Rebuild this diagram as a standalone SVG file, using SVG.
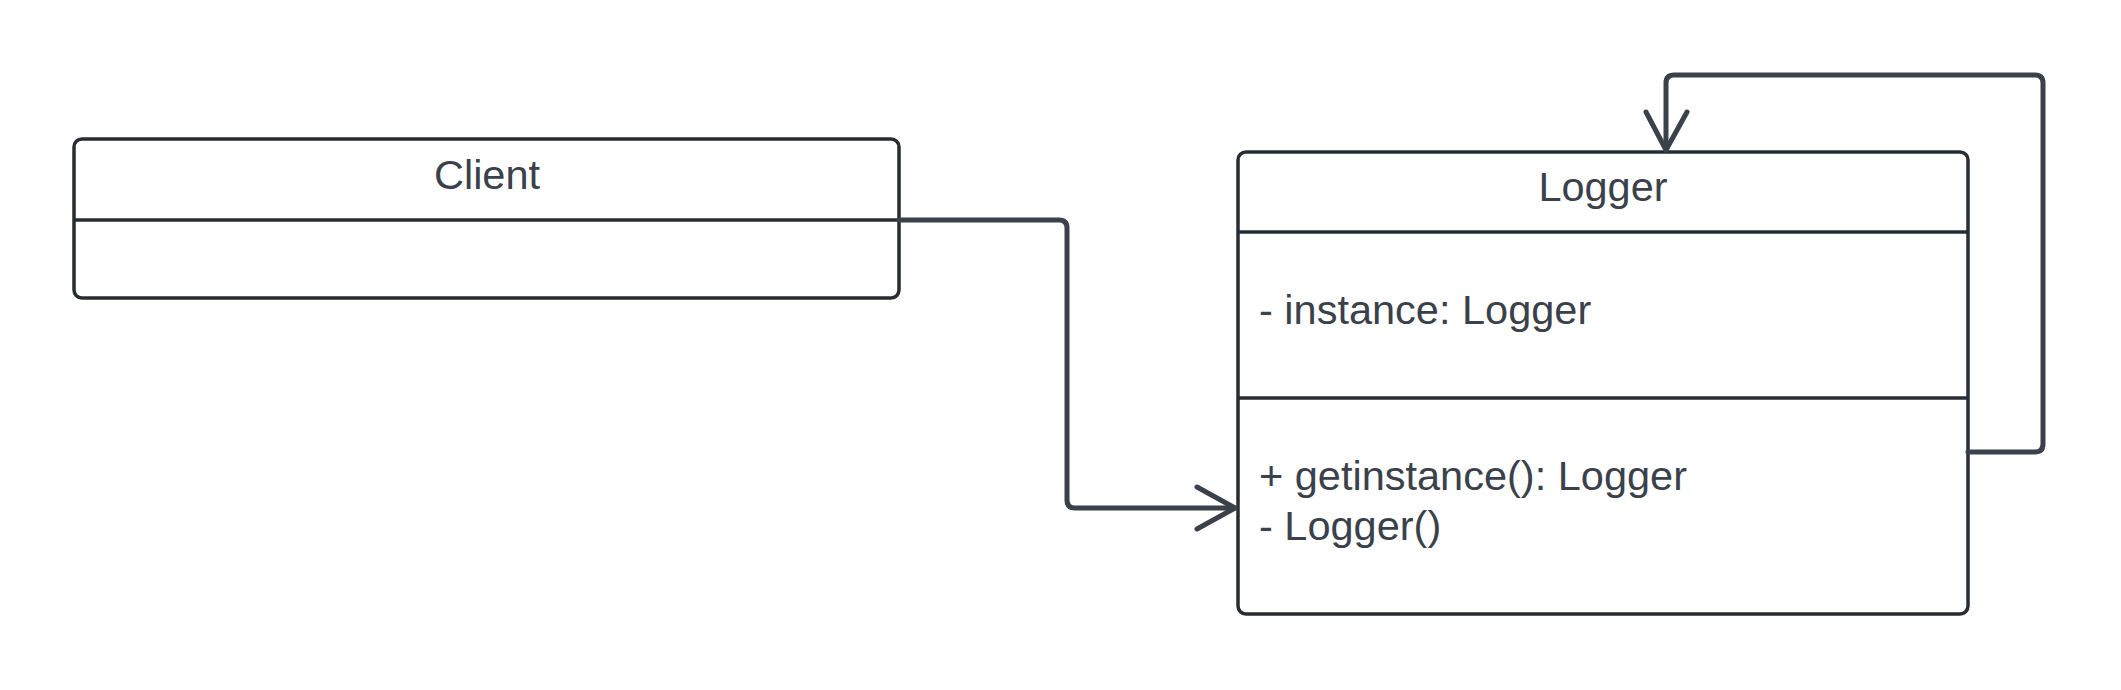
<svg xmlns="http://www.w3.org/2000/svg" width="2121" height="690" viewBox="0 0 2121 690">
<style>
.box{fill:#ffffff;stroke:#282c33;stroke-width:3.5}
.div{stroke:#282c33;stroke-width:3.5}
.t{font-family:"Liberation Sans",Arial,sans-serif;font-size:41.5px;fill:#3a414a}
.c{text-anchor:middle}
.conn{fill:none;stroke:#3a414a;stroke-width:5;stroke-linejoin:round;stroke-linecap:round}
</style>
<rect width="2121" height="690" fill="#ffffff"/>
<g id="client">
<rect class="box" x="74" y="139" width="825" height="159" rx="8"/>
<line class="div" x1="74" y1="220" x2="899" y2="220"/>
<text class="t c" x="487" y="189">Client</text>
</g>
<g id="logger">
<rect class="box" x="1238" y="152" width="730" height="462" rx="8"/>
<line class="div" x1="1238" y1="232" x2="1968" y2="232"/>
<line class="div" x1="1238" y1="398" x2="1968" y2="398"/>
<text class="t c" x="1603" y="201">Logger</text>
<text class="t" x="1259" y="324">- instance: Logger</text>
<text class="t" x="1259" y="490">+ getinstance(): Logger</text>
<text class="t" x="1259" y="540">- Logger()</text>
</g>
<g id="connectors">
<path class="conn" d="M 899 220 H 1059 Q 1067 220 1067 228 V 500 Q 1067 508 1075 508 H 1235"/>
<path class="conn" d="M 1197 487 L 1235 508 L 1197 529"/>
<path class="conn" d="M 1968 452 H 2035 Q 2043 452 2043 444 V 83 Q 2043 75 2035 75 H 1674 Q 1666 75 1666 83 V 150"/>
<path class="conn" d="M 1646 112 L 1666 150 L 1687 112"/>
</g>
</svg>
